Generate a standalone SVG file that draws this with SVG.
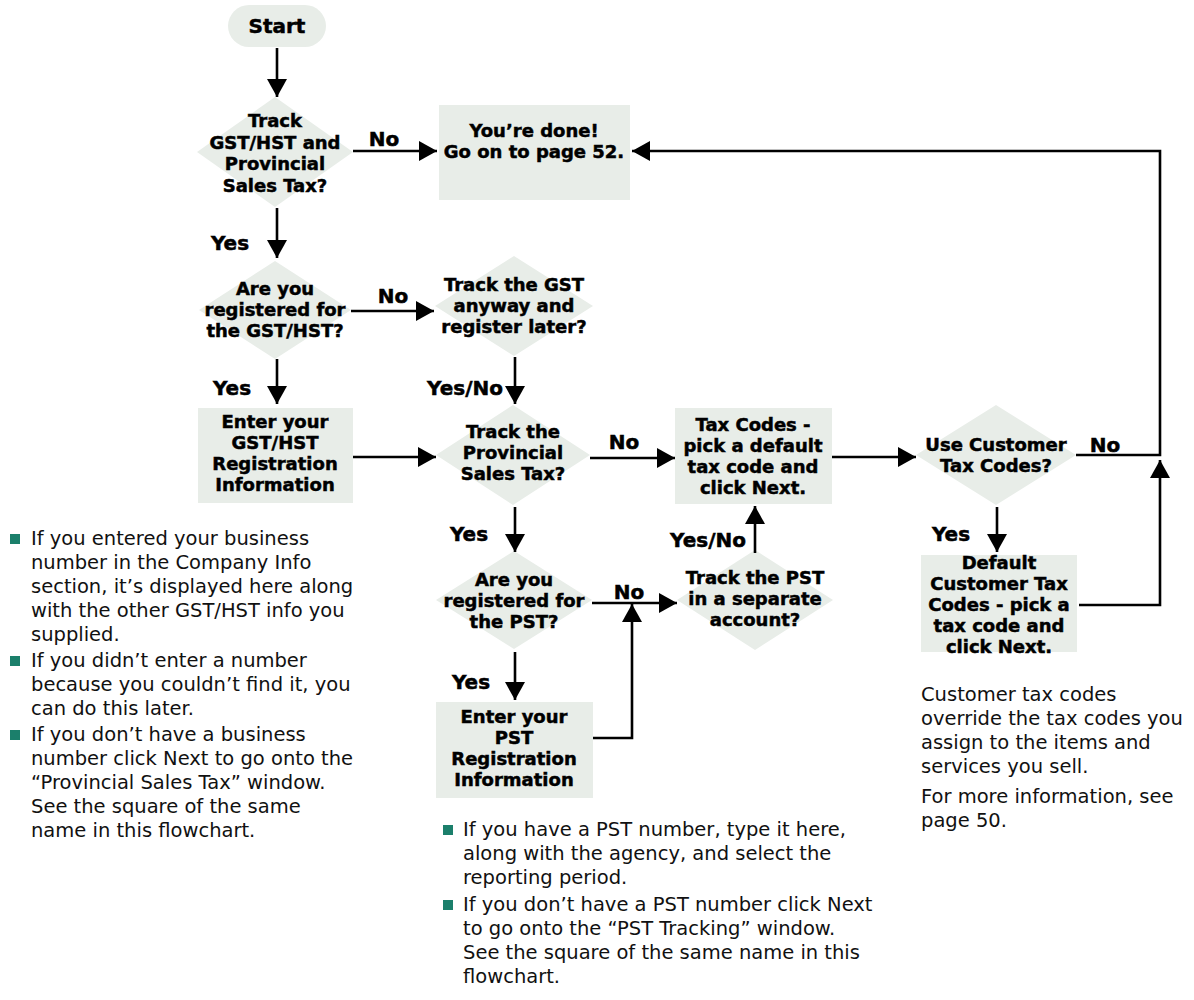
<svg xmlns="http://www.w3.org/2000/svg" width="1194" height="1000" viewBox="0 0 1194 1000">
<defs>
<marker id="ah" viewBox="0 0 18 20" refX="18" refY="10" markerWidth="18" markerHeight="20" markerUnits="userSpaceOnUse" orient="auto"><path d="M0,0 L18,10 L0,20 z" fill="#000"/></marker>
<style>
.shape{fill:#E8EDE8;stroke:none}
.lbl{font-family:"DejaVu Sans",sans-serif;font-weight:bold;font-size:18px;fill:#000;stroke:#000;stroke-width:0.5;text-anchor:middle}
.edge{font-family:"DejaVu Sans",sans-serif;font-weight:bold;font-size:20px;fill:#000;stroke:#000;stroke-width:0.5;text-anchor:middle}
.body{font-family:"DejaVu Sans",sans-serif;font-size:19.5px;fill:#111}
.bul{fill:#1B7F6B}
.conn path{fill:none;stroke:#000;stroke-width:2.6}
.conn path.a{marker-end:url(#ah)}
</style>
</defs>
<rect width="1194" height="1000" fill="#fff"/>

<g id="start"><rect class="shape" x="228" y="5" width="98" height="42" rx="21"/><text class="lbl" x="277" y="33" style="font-size:20px">Start</text></g>

<g id="d1"><polygon class="shape" points="275,97 353,152 275,207 197,152"/>
<text class="lbl" x="275" y="127">Track</text><text class="lbl" x="275" y="148.5">GST/HST and</text><text class="lbl" x="275" y="170">Provincial</text><text class="lbl" x="275" y="191.5">Sales Tax?</text></g>

<g id="done"><rect class="shape" x="439" y="105" width="191" height="95"/>
<text class="lbl" x="534" y="137">You’re done!</text><text class="lbl" x="534" y="158">Go on to page 52.</text></g>

<g id="d2"><polygon class="shape" points="275,261 351,310 275,359 199,310"/>
<text class="lbl" x="275" y="295">Are you</text><text class="lbl" x="275" y="316">registered for</text><text class="lbl" x="275" y="337">the GST/HST?</text></g>

<g id="d3"><polygon class="shape" points="514,256 593,306 514,356 435,306"/>
<text class="lbl" x="514" y="291">Track the GST</text><text class="lbl" x="514" y="312">anyway and</text><text class="lbl" x="514" y="333">register later?</text></g>

<g id="gstreg"><rect class="shape" x="198" y="408" width="155" height="95"/>
<text class="lbl" x="275" y="428">Enter your</text><text class="lbl" x="275" y="449">GST/HST</text><text class="lbl" x="275" y="470">Registration</text><text class="lbl" x="275" y="491">Information</text></g>

<g id="d4"><polygon class="shape" points="513,405 590,455 513,505 436,455"/>
<text class="lbl" x="513" y="438">Track the</text><text class="lbl" x="513" y="459">Provincial</text><text class="lbl" x="513" y="480">Sales Tax?</text></g>

<g id="taxcodes"><rect class="shape" x="675" y="408" width="157" height="96"/>
<text class="lbl" x="753" y="431">Tax Codes -</text><text class="lbl" x="753" y="452">pick a default</text><text class="lbl" x="753" y="473">tax code and</text><text class="lbl" x="753" y="494">click Next.</text></g>

<g id="d5"><polygon class="shape" points="996,405 1076,455 996,505 916,455"/>
<text class="lbl" x="996" y="451">Use Customer</text><text class="lbl" x="996" y="472">Tax Codes?</text></g>

<g id="custcodes"><rect class="shape" x="921" y="555" width="156" height="97"/>
<text class="lbl" x="999" y="569">Default</text><text class="lbl" x="999" y="590">Customer Tax</text><text class="lbl" x="999" y="611">Codes - pick a</text><text class="lbl" x="999" y="632">tax code and</text><text class="lbl" x="999" y="653">click Next.</text></g>

<g id="d6"><polygon class="shape" points="514,551 592,600 514,649 436,600"/>
<text class="lbl" x="514" y="586">Are you</text><text class="lbl" x="514" y="607">registered for</text><text class="lbl" x="514" y="628">the PST?</text></g>

<g id="d7"><polygon class="shape" points="755,550 833,600 755,650 677,600"/>
<text class="lbl" x="755" y="584">Track the PST</text><text class="lbl" x="755" y="605">in a separate</text><text class="lbl" x="755" y="626">account?</text></g>

<g id="pstreg"><rect class="shape" x="436" y="702" width="157" height="96"/>
<text class="lbl" x="514" y="723">Enter your</text><text class="lbl" x="514" y="744">PST</text><text class="lbl" x="514" y="765">Registration</text><text class="lbl" x="514" y="786">Information</text></g>

<g class="conn" id="connectors">
<path class="a" d="M277,48 V97"/>
<path class="a" d="M353,151 H437"/>
<path class="a" d="M277,208 V258"/>
<path class="a" d="M351,311 H434"/>
<path class="a" d="M277,359 V404"/>
<path class="a" d="M515,357 V404"/>
<path class="a" d="M353,457 H436"/>
<path class="a" d="M590,458 H675"/>
<path class="a" d="M832,457 H916"/>
<path class="a" d="M1076,455 H1160 V151 H632"/>
<path class="a" d="M1079,605 H1160 V460"/>
<path class="a" d="M997,507 V552"/>
<path class="a" d="M515,507 V552"/>
<path class="a" d="M592,603 H677"/>
<path class="a" d="M755,553 V506"/>
<path class="a" d="M515,652 V700"/>
<path class="a" d="M593,738 H632 V604"/>
<text class="edge" x="384" y="146">No</text>
<text class="edge" x="230" y="250">Yes</text>
<text class="edge" x="393" y="303">No</text>
<text class="edge" x="232" y="395">Yes</text>
<text class="edge" x="465" y="395">Yes/No</text>
<text class="edge" x="624" y="449">No</text>
<text class="edge" x="1105" y="452">No</text>
<text class="edge" x="469" y="541">Yes</text>
<text class="edge" x="951" y="541">Yes</text>
<text class="edge" x="708" y="547">Yes/No</text>
<text class="edge" x="629" y="599">No</text>
<text class="edge" x="471" y="689">Yes</text>
</g>

<g id="notes-left">
<rect class="bul" x="10" y="534" width="10" height="10"/>
<rect class="bul" x="10" y="656" width="10" height="10"/>
<rect class="bul" x="10" y="730" width="10" height="10"/>
<text class="body" x="31" y="545">If you entered your business</text>
<text class="body" x="31" y="569">number in the Company Info</text>
<text class="body" x="31" y="593">section, it’s displayed here along</text>
<text class="body" x="31" y="617">with the other GST/HST info you</text>
<text class="body" x="31" y="641">supplied.</text>
<text class="body" x="31" y="667">If you didn’t enter a number</text>
<text class="body" x="31" y="691">because you couldn’t find it, you</text>
<text class="body" x="31" y="715">can do this later.</text>
<text class="body" x="31" y="741">If you don’t have a business</text>
<text class="body" x="31" y="765">number click Next to go onto the</text>
<text class="body" x="31" y="789">“Provincial Sales Tax” window.</text>
<text class="body" x="31" y="813">See the square of the same</text>
<text class="body" x="31" y="837">name in this flowchart.</text>
</g>

<g id="notes-mid">
<rect class="bul" x="443" y="825" width="10" height="10"/>
<rect class="bul" x="443" y="900" width="10" height="10"/>
<text class="body" x="463" y="836">If you have a PST number, type it here,</text>
<text class="body" x="463" y="860">along with the agency, and select the</text>
<text class="body" x="463" y="884">reporting period.</text>
<text class="body" x="463" y="911">If you don’t have a PST number click Next</text>
<text class="body" x="463" y="935">to go onto the “PST Tracking” window.</text>
<text class="body" x="463" y="959">See the square of the same name in this</text>
<text class="body" x="463" y="983">flowchart.</text>
</g>

<g id="notes-right">
<text class="body" x="921" y="701">Customer tax codes</text>
<text class="body" x="921" y="725">override the tax codes you</text>
<text class="body" x="921" y="749">assign to the items and</text>
<text class="body" x="921" y="773">services you sell.</text>
<text class="body" x="921" y="803">For more information, see</text>
<text class="body" x="921" y="827">page 50.</text>
</g>
</svg>
